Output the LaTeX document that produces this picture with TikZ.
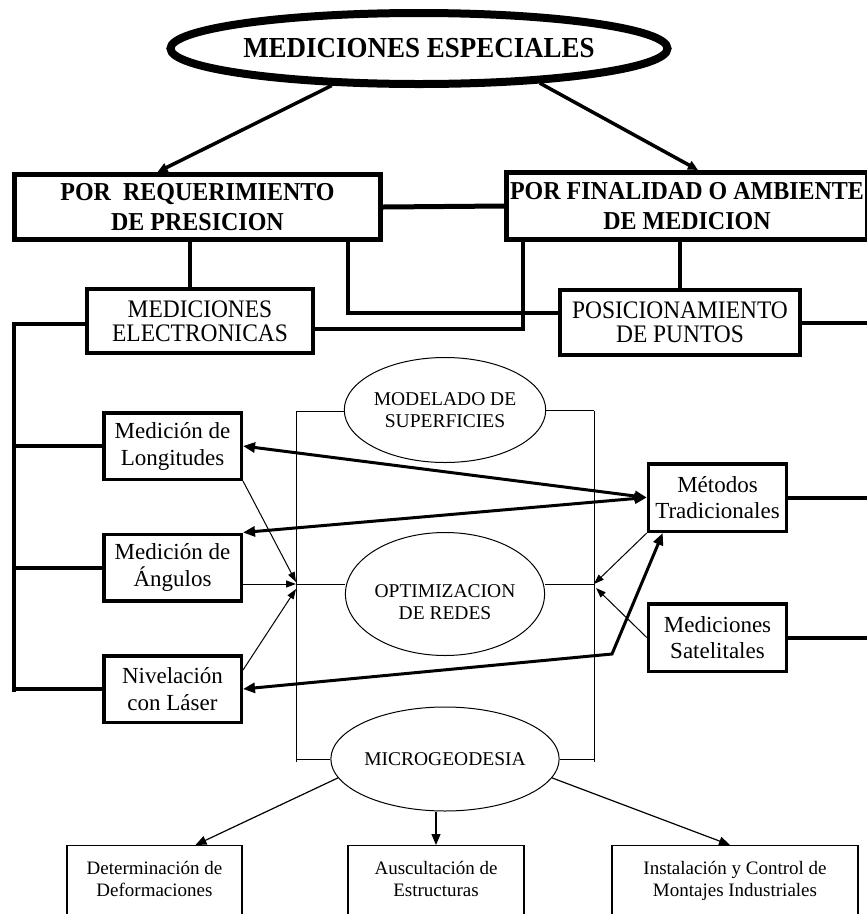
\documentclass[tikz,border=0pt]{standalone}
\usepackage{fontspec}
\setmainfont{Liberation Serif}
\newfontfamily\tallserif[FakeStretch=0.93]{Liberation Serif}
\usetikzlibrary{arrows.meta,shapes.geometric}
\begin{document}
\begin{tikzpicture}[x=1pt,y=-1pt,
  titleell/.style={ellipse,draw,line width=8pt,minimum width=490pt,minimum height=71pt,inner sep=0pt,
     font=\tallserif\fontsize{29}{32}\selectfont\bfseries},
  bigbox/.style={rectangle,draw,line width=5pt,minimum height=65pt,inner sep=0pt,align=center,
     font=\tallserif\fontsize{25.8}{30}\selectfont\bfseries},
  midbox/.style={rectangle,draw,line width=4pt,minimum width=226pt,minimum height=64pt,inner sep=0pt,align=center,
     font=\tallserif\fontsize{25.2}{24}\selectfont},
  smallbox/.style={rectangle,draw,line width=3.5pt,minimum width=137.5pt,minimum height=66.5pt,inner sep=0pt,align=center,
     font=\fontsize{23}{27}\selectfont},
  thinell/.style={ellipse,draw,line width=1pt,minimum width=194pt,inner sep=0pt,align=center,
     font=\fontsize{19.5}{21.5}\selectfont},
  botbox/.style={rectangle,draw,line width=1.2pt,anchor=north,inner xsep=0pt,inner ysep=16pt,align=center,
     font=\fontsize{19}{22}\selectfont},
  conn/.style={line width=4pt},
  toparr/.style={line width=3.5pt,-{Triangle[length=10pt,width=9pt]}},
  dblarr/.style={line width=3pt,{Triangle[length=12pt,width=10pt]}-{Triangle[length=12pt,width=10pt]}},
  thinarr/.style={line width=1pt,-{Triangle[length=10pt,width=7pt]}},
  botarr/.style={line width=1.2pt,-{Triangle[length=11pt,width=9pt]}},
  thinline/.style={line width=1pt}
]
\useasboundingbox (0,0) rectangle (867,914);
\clip (0,0) rectangle (867,914);

% title
\node[titleell] (T) at (419,48.5) {MEDICIONES ESPECIALES};

% top boxes
\node[bigbox,minimum width=366pt] (P1) at (197.5,207) {POR~~REQUERIMIENTO\\DE PRESICION};
\node[bigbox,minimum width=361pt,minimum height=67pt] (P2) at (687,206) {POR FINALIDAD O AMBIENTE\\DE MEDICION};

% second level
\node[midbox] (E) at (200,321) {MEDICIONES\\ELECTRONICAS};
\node[midbox,minimum width=240pt,minimum height=65pt] (Pos) at (680,322.5) {POSICIONAMIENTO\\DE PUNTOS};

% left column
\node[smallbox] (L) at (172.5,446) {Medición de\\Longitudes};
\node[smallbox] (A) at (172.5,567.5) {Medición de\\Ángulos};
\node[smallbox] (N) at (172.5,689) {Nivelación\\con Láser};

% right column
\node[smallbox,minimum width=138pt,minimum height=67.5pt,font=\fontsize{23}{26}\selectfont] (M) at (717.5,497.5) {Métodos\\Tradicionales};
\node[smallbox,minimum width=138pt,minimum height=67.5pt,font=\fontsize{23}{26}\selectfont] (S) at (717.5,637.5) {Mediciones\\Satelitales};

% centre ellipses
\node[thinell,minimum height=105pt] (MOD) at (445,410) {MODELADO DE\\SUPERFICIES};
\node[thinell,minimum height=123pt,font=\fontsize{19.5}{22}\selectfont] (OPT) at (445,594) {\rule{0pt}{30pt}OPTIMIZACION\\DE REDES};
\node[thinell,minimum height=104pt] (MIC) at (445,759) {MICROGEODESIA};

% bottom boxes
\node[botbox,minimum width=175pt] (B1) at (154.5,845) {Determinación de\\Deformaciones\\[40pt]\mbox{}};
\node[botbox,minimum width=176pt] (B2) at (436,845) {Auscultación de\\Estructuras\\[40pt]\mbox{}};
\node[botbox,minimum width=246pt] (B3) at (735,845) {Instalación y Control de\\Montajes Industriales\\[40pt]\mbox{}};

% helper coordinates
\coordinate (rTL) at (296,411);
\coordinate (rTR) at (594,411);
\coordinate (rBL) at (296,762);
\coordinate (rBR) at (594,762);
\coordinate (cL) at (296,584);
\coordinate (cR) at (594,584);
\coordinate (busB) at (14,692);
\coordinate (Redge) at (872,0);
\coordinate (bend) at (612,654);

% title arrows
\draw[toparr] (T.203) -- ([xshift=-40pt]P1.north);
\draw[toparr] (T.-16) -- ([xshift=11pt]P2.north);

% connectors between top boxes
\draw[line width=5pt] (P1.east) -- (P2.west);
\draw[conn] ([xshift=-10pt]E.north) -- ([xshift=-10pt]E.north |- P1.south);
\draw[conn] ([xshift=150.5pt]P1.south) |- ([yshift=10pt]Pos.west);
\draw[conn] ([xshift=-164pt]P2.south) |- ([yshift=-8pt]E.east);
\draw[conn] (Pos.north) -- (Pos.north |- P2.south);
\draw[conn] (Pos.east) -- (Pos.east -| Redge);

% left bus
\draw[conn] ([yshift=-3pt]E.west) -| (busB);
\draw[conn] (L.west) -- (L.west -| busB);
\draw[conn] (A.west) -- (A.west -| busB);
\draw[conn] (N.west) -- (N.west -| busB);

% right lines
\draw[conn] (M.east) -- (M.east -| Redge);
\draw[conn] (S.east) -- (S.east -| Redge);

% centre frame
\draw[thinline] (rTL) -- (rBL);
\draw[thinline] (rTR) -- (rBR);
\draw[thinline] (rTL) -- (rTL -| MOD.west);
\draw[thinline] (MOD.east) -- (MOD.east -| rTR);
\draw[thinline] (cL) -- (cL -| OPT.west);
\draw[thinline] (cR -| OPT.east) -- (cR);
\draw[thinline] (MIC.west -| rBL) -- (MIC.west);
\draw[thinline] (MIC.east) -- (MIC.east -| rBR);

% thin arrows into frame
\draw[thinarr] (L.south east) -- ([yshift=2pt]cL);
\draw[thinarr] ([yshift=-16.5pt]A.east) -- (cL);
\draw[thinarr] ([yshift=-16pt]N.north east) -- ([yshift=-5pt]cL);
\draw[thinarr] (M.south west) -- (cR);
\draw[thinarr] (S.west) -- ([xshift=2pt,yshift=-4pt]cR);

% thick double arrows
\draw[dblarr] (L.east) -- (M.west);
\draw[dblarr] (A.north east) -- (M.west);
\draw[dblarr] (N.east) -- (bend) -- ([xshift=16pt]M.south west);

% bottom arrows
\draw[botarr] (MIC.190) -- ([xshift=41pt]B1.north);
\draw[botarr] (MIC.south -| B2.north) -- (B2.north);
\draw[botarr] (MIC.-10) -- ([xshift=-5pt]B3.north);
\end{tikzpicture}
\end{document}
